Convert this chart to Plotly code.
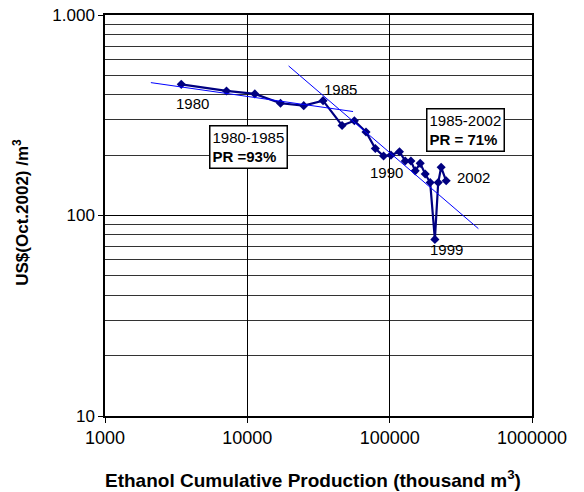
import math
import plotly.graph_objects as go

# ---- data ----
years = list(range(1980, 2003))
cum_prod = [3435, 7140, 11290, 17100, 24900, 34050, 46300, 56500, 68200, 79300,
            90600, 102100, 117200, 128600, 141000, 151200, 163900, 177700, 192600,
            207800, 219300, 230000, 249500]
price = [451, 418, 404, 363, 353, 374, 281, 297, 261, 216,
         198, 200, 208, 187, 187, 167, 182, 161, 146,
         76, 146, 174, 149]

trend_8085_x = [2100, 55300]
trend_8085_y = [460, 330]
trend_8502_x = [19500, 420000]
trend_8502_y = [557, 86]

x_tickvals = [1000, 10000, 100000, 1000000]
x_ticktext = ["1000", "10000", "100000", "1000000"]
y_tickvals = [10, 100, 1000]
y_ticktext = ["10", "100", "1.000"]
y_minor = [m * d for d in (10, 100) for m in range(2, 10)]

labeled_years = [1980, 1985, 1990, 1999, 2002]
label_shift = {1980: (11, -19), 1985: (17, 11), 1990: (3, -16), 1999: (12, -10), 2002: (27, 3)}

FONT = "Liberation Sans, Arial, sans-serif"
NAVY = "#000080"
BLUE = "#0000FF"

fig = go.Figure()
fig.add_trace(go.Scatter(x=cum_prod, y=price, mode="lines+markers",
                         line=dict(color=NAVY, width=2.2),
                         marker=dict(symbol="diamond", size=7, color=NAVY),
                         showlegend=False))
fig.add_trace(go.Scatter(x=trend_8085_x, y=trend_8085_y, mode="lines",
                         line=dict(color=BLUE, width=1), showlegend=False))
fig.add_trace(go.Scatter(x=trend_8502_x, y=trend_8502_y, mode="lines",
                         line=dict(color=BLUE, width=1), showlegend=False))

for yr in labeled_years:
    i = years.index(yr)
    dx, dy = label_shift[yr]
    fig.add_annotation(x=math.log10(cum_prod[i]), y=math.log10(price[i]),
                       text=str(yr), showarrow=False, xshift=dx, yshift=dy,
                       font=dict(family=FONT, size=15, color="#000"))

box_style = dict(showarrow=False, xref="paper", yref="paper", align="left",
                 xanchor="center", yanchor="middle",
                 bgcolor="white", bordercolor="black", borderwidth=1.5, borderpad=2,
                 font=dict(family=FONT, size=15, color="#000"))
fig.add_annotation(x=0.3368, y=0.6703, text="1980-1985<br><b>PR =93%</b>", **box_style)
fig.add_annotation(x=0.8436, y=0.7137, text="1985-2002<br><b>PR = 71%</b>", **box_style)

# axis titles
fig.add_annotation(x=0.487, y=-0.157, xref="paper", yref="paper", showarrow=False,
                   xanchor="center", yanchor="middle",
                   text="<b>Ethanol Cumulative Production (thousand m<sup>3</sup>)</b>",
                   font=dict(family=FONT, size=19, color="#000"))
fig.add_annotation(x=-0.197, y=0.509, xref="paper", yref="paper", showarrow=False,
                   xanchor="center", yanchor="middle",
                   textangle=-90, text="<b>US$(Oct.2002) /m<sup>3</sup></b>",
                   font=dict(family=FONT, size=17, color="#000"))

# the page body adds an 8px offset: size the figure so the plot area lands where the reference has it
fig.update_layout(
    width=576, height=484,
    margin=dict(l=97, r=52, t=7, b=76),
    paper_bgcolor="white", plot_bgcolor="white",
    font=dict(family=FONT, color="#000"),
    xaxis=dict(type="log", range=[3, 6], tickmode="array", tickvals=x_tickvals,
               ticktext=x_ticktext, ticks="outside", ticklen=5, tickcolor="black",
               showgrid=True, gridcolor="black", gridwidth=1, automargin=False,
               ticklabeloverflow="allow",
               showline=True, linecolor="black", linewidth=1.5, mirror=True,
               zeroline=False, tickfont=dict(size=18, family=FONT)),
    yaxis=dict(type="log", range=[1, 3], tickmode="array", tickvals=y_tickvals,
               ticktext=y_ticktext, ticks="outside", ticklen=5, tickcolor="black",
               showgrid=True, gridcolor="black", gridwidth=1, automargin=False,
               ticklabeloverflow="allow",
               minor=dict(tickmode="array", tickvals=y_minor, showgrid=True,
                          gridcolor="#333", gridwidth=1, ticks=""),
               showline=True, linecolor="black", linewidth=1.5, mirror=True,
               zeroline=False, tickfont=dict(size=17, family=FONT)),
)

fig.write_html("out.html")
